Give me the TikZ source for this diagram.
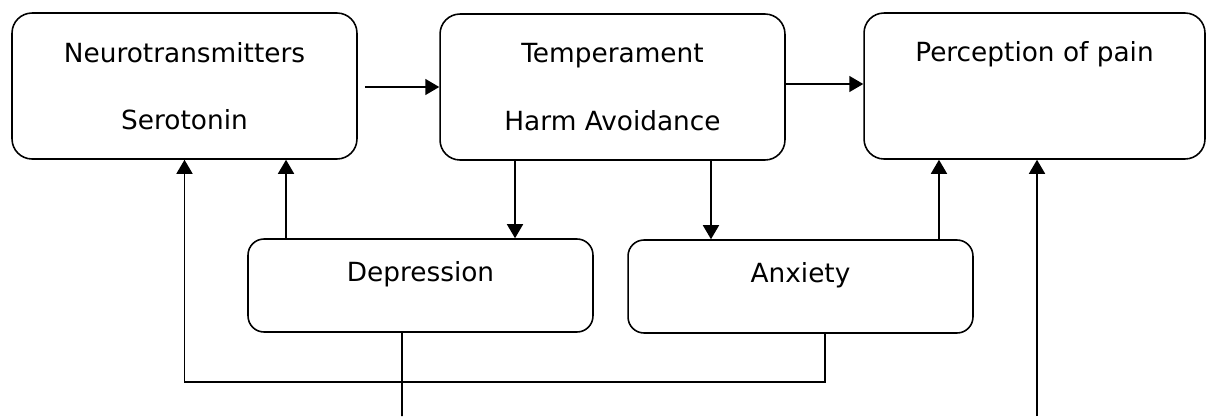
\documentclass[tikz,border=0pt]{standalone}
\usepackage{fontspec}
\setmainfont{DejaVu Sans}
\usetikzlibrary{arrows.meta, calc}

\tikzset{
	bigbox/.style={draw, line width=0.9pt, rounded corners=0.4cm, minimum width=6.9cm,
		minimum height=2.92cm, align=center, inner sep=0pt,
		font=\fontsize{15}{18}\selectfont},
	smallbox/.style={bigbox, rounded corners=0.32cm, minimum height=1.86cm},
	arr/.style={line width=0.9pt, -{Triangle[length=2.8mm, width=3.2mm]}},
	link/.style={line width=0.9pt},
}

\begin{document}
\begin{tikzpicture}[x=0.02cm, y=-0.02cm]
	\useasboundingbox (0,0) rectangle (1206,416);
	
	% top row
	\node[bigbox] (nt) at (184.5,86) {Neurotransmitters\\[20.5pt]Serotonin};
	\node[bigbox] (temp) at (612.5,87) {Temperament\\[20.5pt]Harm Avoidance};
	\node[bigbox, minimum width=6.82cm] (pain) at (1034.5,86) {Perception of pain\\[16pt]\strut};
	
	% bottom row
	\node[smallbox] (dep) at (420.5,285.5) {Depression\\[-8pt]\strut};
	\node[smallbox] (anx) at (800.5,286.5) {Anxiety\\[-8pt]\strut};
	
	% free ends at the lower edge
	\coordinate (depout) at (402,416);
	\coordinate (painin) at (1037,416);
	\coordinate (turn) at (184.5,382);
	
	\draw[arr] ([xshift=0.14cm]nt.east |- temp.west) -- (temp.west);
	\draw[arr] ([yshift=0.06cm]temp.east) -- ([yshift=0.06cm]temp.east -| pain.west);
	\draw[arr] ([xshift=-1.95cm]temp.south) -- ([xshift=-1.95cm]temp.south |- dep.north);
	\draw[arr] ([xshift=1.97cm]temp.south) -- ([xshift=1.97cm]temp.south |- anx.north);
	\draw[arr] ([xshift=-2.69cm]dep.north) -- ([xshift=-2.69cm]dep.north |- nt.south);
	\draw[arr] ([xshift=2.77cm]anx.north) -- ([xshift=2.77cm]anx.north |- pain.south);
	
	% feedback lines
	\draw[arr] ([xshift=0.49cm]anx.south) |- (turn) -- (nt.south);
	\draw[link] ([xshift=-0.37cm]dep.south) -- (depout);
	\draw[arr] (painin) -- (painin |- pain.south);
\end{tikzpicture}
\end{document}
